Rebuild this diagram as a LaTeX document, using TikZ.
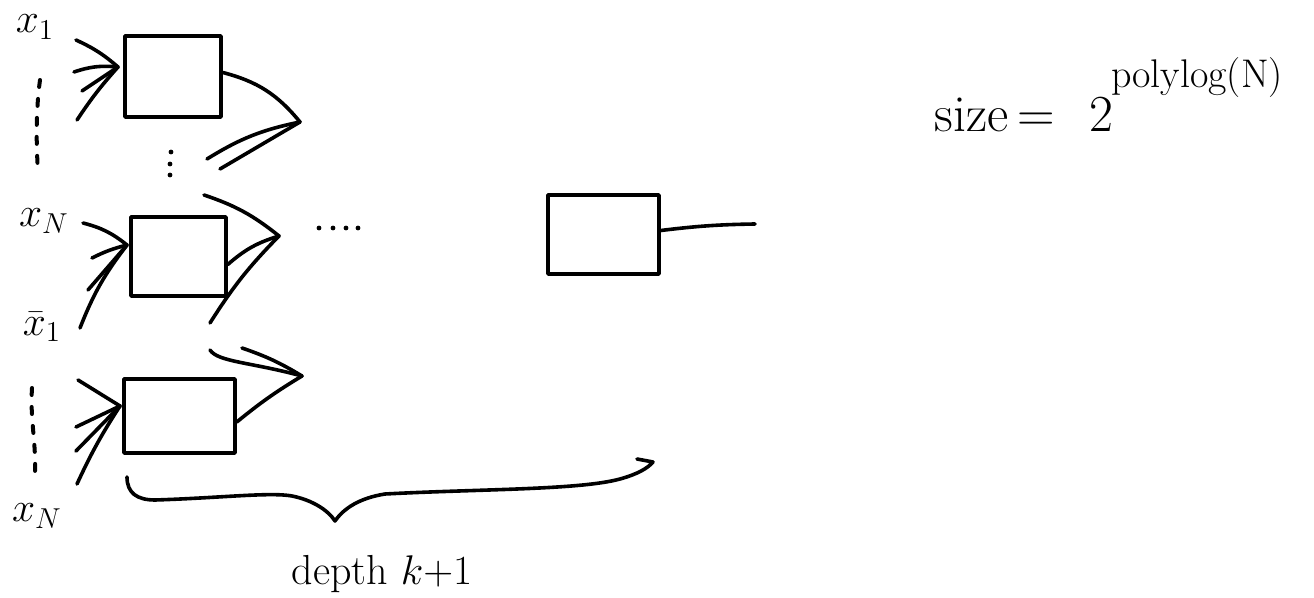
\documentclass[tikz,border=0pt]{standalone}
\begin{document}
\begin{tikzpicture}[x=0.5pt,y=-0.5pt,
  line width=1.8pt, line cap=round, line join=round,
  box/.style={draw, rectangle, inner sep=0pt, line width=1.8pt},
  wire/.style={draw, line width=1.8pt},
  dotcol/.style={line width=2pt, dash pattern=on 3.5pt off 6pt},
  dotpt/.style={circle, fill, inner sep=0pt, minimum size=2.4pt},
  inlbl/.style={font=\fontsize{22}{24}\selectfont, inner sep=0pt},
  txt/.style={font=\fontsize{26}{28}\selectfont, inner sep=0pt},
  suplbl/.style={font=\fontsize{20}{22}\selectfont, inner sep=0pt},
  dlbl/.style={font=\fontsize{21}{24}\selectfont, inner sep=0pt}]
\useasboundingbox (0,0) rectangle (1314,598);

% boxes
\node[box, minimum width=48pt, minimum height=40.5pt] (b1) at (173,76.5) {};
\node[box, minimum width=47.5pt, minimum height=39.5pt] (b2) at (178.5,256.5) {};
\node[box, minimum width=55.5pt, minimum height=37pt] (b3) at (179.5,416) {};
\node[box, minimum width=55.5pt, minimum height=39.5pt] (b4) at (603.5,234.5) {};

% input labels
\node[inlbl] (lx1) at (35,27) {$x_1$};
\node[inlbl] (lxN) at (44,221) {$x_N$};
\node[inlbl] (lxb1) at (42,327) {$\bar{x}_1$};
\node[inlbl] (lxN2) at (37,516) {$x_N$};

% vertical dotted columns
\coordinate (c1a) at (40,80);
\coordinate (c1b) at (38,172);
\draw[dotcol] (c1a) .. controls (36,110) and (36,140) .. (c1b);
\coordinate (c2a) at (32,388);
\coordinate (c2b) at (35,472);
\draw[dotcol] (c2a) .. controls (30,420) and (36,440) .. (c2b);

% middle dots
\node[dotpt] (md1) at (171,152) {};
\node[dotpt] (md2) at (170,164) {};
\node[dotpt] (md3) at (170,175) {};

% inputs of box 1
\coordinate (i1) at (118,67);
\coordinate (s11) at (76,40);
\coordinate (s12) at (74,72);
\coordinate (s13) at (82,91);
\coordinate (s14) at (77,120);
\draw[wire] (s11) to[bend left=8] (i1);
\draw[wire] (s12) to[bend left=12] (i1);
\draw[wire] (s13) to (i1);
\draw[wire] (s14) to[bend left=4] (i1);

% inputs of box 2
\coordinate (i2) at (127,245);
\coordinate (s21) at (83,223);
\coordinate (s22) at (92,258);
\coordinate (s23) at (88,290);
\coordinate (s24) at (80,328);
\draw[wire] (s21) to[bend left=12] (i2);
\draw[wire] (s22) to[bend left=6] (i2);
\draw[wire] (s23) to (i2);
\draw[wire] (s24) to[bend left=8] (i2);

% inputs of box 3
\coordinate (i3) at (120,406);
\coordinate (s31) at (78,380);
\coordinate (s32) at (76,427);
\coordinate (s33) at (76,451);
\coordinate (s34) at (77,484);
\draw[wire] (s31) to (i3);
\draw[wire] (s32) to (i3);
\draw[wire] (s33) to (i3);
\draw[wire] (s34) to[bend left=4] (i3);

% gate 1
\coordinate (g1) at (300,122);
\coordinate (g1a) at (207,159);
\coordinate (g1b) at (220,169);
\draw[wire] ([yshift=2pt]b1.east) to[bend left=18] (g1);
\draw[wire] (g1a) to[bend left=10] (g1);
\draw[wire] (g1b) to (g1);

% gate 2
\coordinate (g2) at (279,236);
\coordinate (g2a) at (204,195);
\coordinate (g2b) at (210,323);
\draw[wire] (g2a) to[bend left=10] (g2);
\draw[wire] ([yshift=-4pt]b2.east) to[bend left=12] (g2);
\draw[wire] (g2b) to[bend left=6] (g2);

% gate 3
\coordinate (g3) at (302,376);
\coordinate (g3a) at (210,350);
\coordinate (g3b) at (242,348);
\draw[wire] (g3a) .. controls (218,362) and (250,362) .. (g3);
\draw[wire] (g3b) to[bend left=6] (g3);
\draw[wire] ([yshift=-3pt]b3.east) to[bend left=4] (g3);

% dots between layers
\node[dotpt] (h1) at (319,228) {};
\node[dotpt] (h2) at (333,228) {};
\node[dotpt] (h3) at (346,228) {};
\node[dotpt] (h4) at (358,228) {};

% output of final box
\coordinate (out) at (755,224);
\draw[wire] ([yshift=2pt]b4.east) to[bend left=3] (out);

% brace
\coordinate (br1) at (127,477);
\coordinate (brtip) at (335,521);
\coordinate (br2) at (653,462);
\coordinate (brhook) at (637,459);
\draw[wire] (br1) .. controls (127,493) and (137,500) .. (155,500)
  .. controls (220,498) and (270,492) .. (292,496)
  .. controls (312,500) and (328,510) .. (brtip)
  .. controls (344,508) and (360,498) .. (385,494)
  .. controls (480,489) and (580,490) .. (620,479)
  .. controls (638,474) and (648,468) .. (br2) -- (brhook);

% labels
\node[dlbl] (depth) at (382,574) {depth $k{+}1$};
\node[txt, anchor=base west] (size) at (933,132) {size\,=};
\node[txt, anchor=base west] (two) at (1088,132) {2};
\node[suplbl] (exp) at (1197,78) {polylog(N)};
\end{tikzpicture}
\end{document}
